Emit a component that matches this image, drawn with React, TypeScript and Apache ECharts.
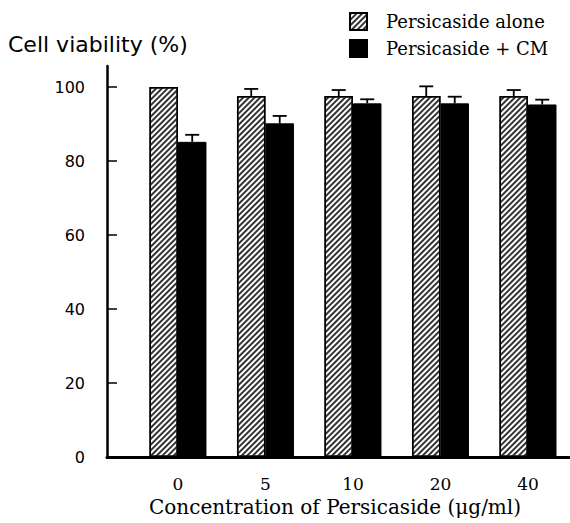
import React, { useEffect, useRef } from "react";
import * as echarts from "echarts";

const categories = ["0", "5", "10", "20", "40"];
const aloneValues = [100, 97.6, 97.6, 97.6, 97.6];
const aloneErrors = [0, 1.9, 1.6, 2.6, 1.6];
const cmValues = [85.2, 90.2, 95.6, 95.6, 95.3];
const cmErrors = [1.9, 2.0, 1.1, 1.8, 1.3];
const yTicks = [0, 20, 40, 60, 80, 100];
const seriesNames = ["Persicaside alone", "Persicaside + CM"];

export default function App() {
  const ref = useRef<HTMLDivElement>(null);
  useEffect(() => {
    if (!ref.current) return;
    const chart = echarts.init(ref.current, undefined, { renderer: "svg" });
    const idx = categories.map((_, i) => i);
    const halfBar = 14.25;
    const errData = [
      ...idx.map((i) => [i, aloneValues[i], aloneErrors[i], -1]),
      ...idx.map((i) => [i, cmValues[i], cmErrors[i], 1]),
    ];
    const hatch = {
      symbol: "rect",
      symbolSize: 1,
      dashArrayX: [1, 0],
      dashArrayY: [1.2, 1.8],
      rotation: -Math.PI / 4,
      color: "#333",
      backgroundColor: "#fff",
    };
    chart.setOption({
      animation: false,
      backgroundColor: "#fff",
      grid: { left: 107, right: 0, top: 66, bottom: 66 },
      legend: {
        orient: "vertical",
        left: 349,
        top: 12,
        padding: 0,
        icon: "rect",
        itemWidth: 17,
        itemHeight: 17,
        itemGap: 8,
        textStyle: { fontFamily: "DejaVu Serif", fontSize: 18, color: "#000", padding: [0, 0, 0, 14] },
        data: seriesNames,
      },
      xAxis: {
        type: "value",
        min: -0.811,
        max: 4.48,
        splitLine: { show: false },
        axisLine: { show: true, onZero: false, lineStyle: { color: "#000", width: 3 } },
        axisTick: { show: false },
        axisLabel: {
          customValues: idx,
          formatter: (v: number) => categories[Math.round(v)] ?? "",
          fontFamily: "DejaVu Serif",
          fontSize: 17,
          color: "#000",
          margin: 18,
        },
      },
      yAxis: {
        type: "value",
        min: 0,
        max: 105.7,
        splitLine: { show: false },
        axisLine: { show: true, onZero: false, lineStyle: { color: "#000", width: 2.5 } },
        axisTick: {
          show: true,
          inside: true,
          length: 10,
          customValues: yTicks,
          lineStyle: { color: "#000", width: 1.5 },
        },
        axisLabel: {
          customValues: yTicks,
          fontFamily: "DejaVu Sans",
          fontSize: 16,
          color: "#000",
          margin: 22,
        },
      },
      graphic: [
        {
          type: "text",
          left: 8,
          top: 33,
          style: { text: "Cell viability (%)", font: "22px 'DejaVu Sans'", fill: "#000" },
        },
        {
          type: "text",
          x: 335,
          y: 507,
          style: {
            text: "Concentration of Persicaside (μg/ml)",
            font: "20px 'DejaVu Serif'",
            fill: "#000",
            align: "center",
            verticalAlign: "middle",
          },
        },
      ],
      series: [
        {
          name: seriesNames[0],
          type: "bar",
          barWidth: 28.5,
          barGap: "0%",
          data: idx.map((i) => [i, aloneValues[i]]),
          itemStyle: { color: "#fff", borderColor: "#000", borderWidth: 1.5, decal: hatch },
        },
        {
          name: seriesNames[1],
          type: "bar",
          barWidth: 28.5,
          barGap: "0%",
          data: idx.map((i) => [i, cmValues[i]]),
          itemStyle: { color: "#000", borderColor: "#000", borderWidth: 1 },
        },
        {
          type: "custom",
          data: errData,
          z: 10,
          renderItem: (params: any, api: any) => {
            const i = api.value(0);
            const v = api.value(1);
            const e = api.value(2);
            const side = api.value(3);
            if (!e) return null;
            const base = api.coord([i, v]);
            const top = api.coord([i, v + e]);
            const x = base[0] + side * halfBar;
            return {
              type: "group",
              children: [
                { type: "line", shape: { x1: x, y1: base[1], x2: x, y2: top[1] }, style: { stroke: "#000", lineWidth: 1.8 } },
                { type: "line", shape: { x1: x - 7, y1: top[1], x2: x + 7, y2: top[1] }, style: { stroke: "#000", lineWidth: 1.8 } },
              ],
            };
          },
        },
      ],
    });
    return () => chart.dispose();
  }, []);
  return <div ref={ref} style={{ position: "absolute", left: 0, top: 0, width: 570, height: 523 }} />;
}
